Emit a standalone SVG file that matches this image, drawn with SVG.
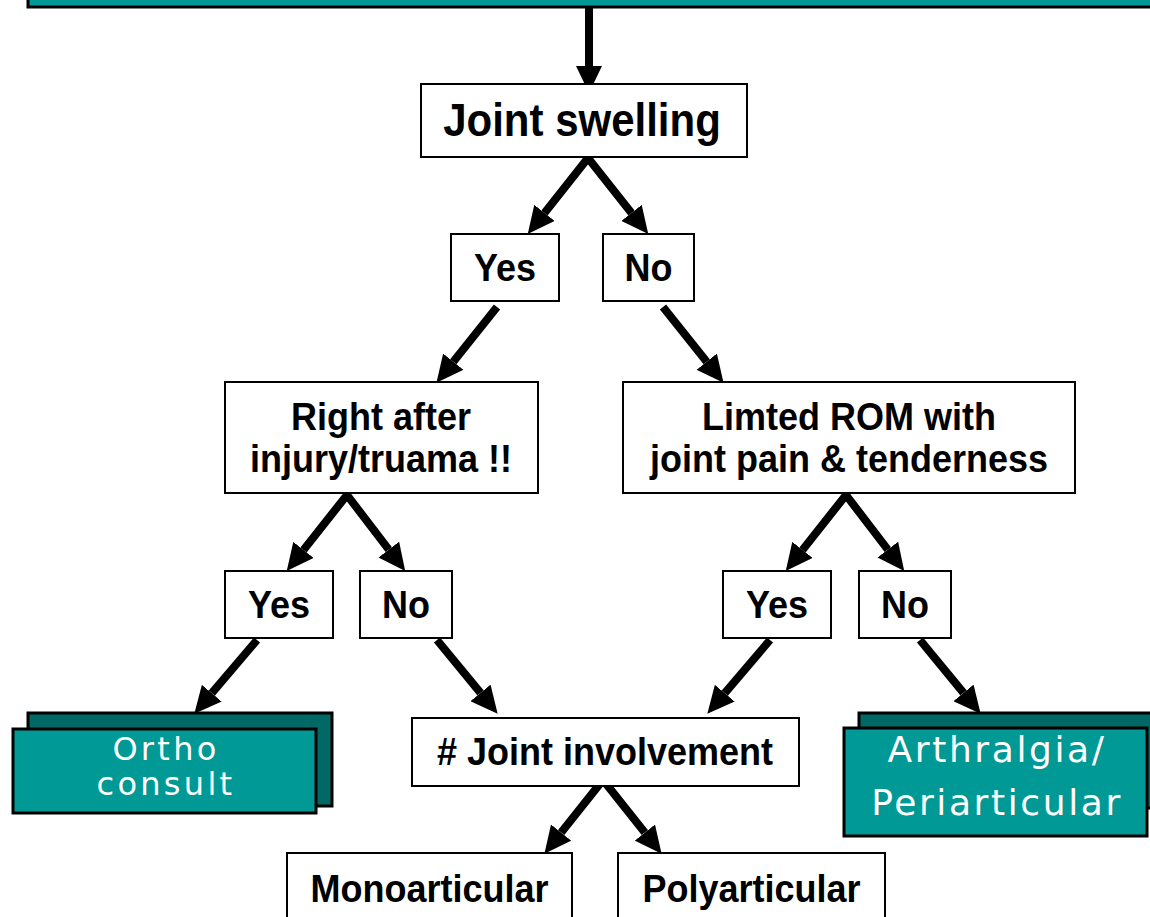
<svg xmlns="http://www.w3.org/2000/svg" width="1150" height="917" viewBox="0 0 1150 917">
  <style>
    .box { fill: #ffffff; stroke: #000000; stroke-width: 2; }
    .teal { fill: #009995; stroke: #000000; stroke-width: 3; }
    .teal-back { fill: #006865; stroke: #000000; stroke-width: 3; }
    .lbl { font-family: "Liberation Sans", Arial, sans-serif; font-weight: bold; font-size: 36px; fill: #000000; text-anchor: middle; }
    .big { font-size: 42px; }
    .wlbl { font-family: "DejaVu Sans", Verdana, sans-serif; font-size: 34px; fill: #ffffff; text-anchor: middle; letter-spacing: 2.6px; }
    .wsm { font-size: 32px; letter-spacing: 3.3px; }
    .conn { fill: none; stroke: #000000; stroke-width: 8; stroke-linejoin: miter; marker-end: url(#ah); }
    .fork { fill: none; stroke: #000000; stroke-width: 8; stroke-linejoin: miter; marker-start: url(#ah); marker-end: url(#ah); }
  </style>
  <defs>
    <marker id="ah" viewBox="0 -13 27 26" refX="0" refY="0" markerWidth="27" markerHeight="26" markerUnits="userSpaceOnUse" orient="auto-start-reverse">
      <path d="M0,-13 L27,0 L0,13 z" fill="#000000"/>
    </marker>
  </defs>

  <rect width="1150" height="917" fill="#ffffff"/>

  <!-- header bar (continues above the top edge) -->
  <g id="header">
    <rect class="teal" x="28" y="-20" width="1140" height="27"/>
  </g>

  <g id="connectors">
    <polyline class="conn" points="589,8 589,66"/>
    <polyline class="fork" points="544.5,212.9 588,158 631.5,212.9"/>
    <polyline class="conn" points="497,307 453.3,361.7"/>
    <polyline class="conn" points="663,307 706.7,361.7"/>
    <polyline class="fork" points="303.5,549.9 347,495 388.8,549.6"/>
    <polyline class="fork" points="802.5,549.9 846,495 887.8,549.6"/>
    <polyline class="conn" points="257,640 211.8,693.2"/>
    <polyline class="conn" points="437,640 480.5,692.9"/>
    <polyline class="conn" points="770,640 724.8,693.2"/>
    <polyline class="conn" points="920,640 963.5,692.9"/>
    <polyline class="fork" points="561.2,832.6 603,780 644.8,832.6"/>
  </g>

  <!-- bold labels are drawn slightly taller than wide (scale 1 x 1.08 about the baseline) -->
  <g id="joint-swelling">
    <rect class="box" x="421" y="84" width="326" height="73"/>
    <text class="lbl big" transform="translate(582,136) scale(1,1.08)">Joint swelling</text>
  </g>

  <g id="yes-1">
    <rect class="box" x="451" y="234" width="108" height="67"/>
    <text class="lbl" transform="translate(505,281) scale(1,1.08)">Yes</text>
  </g>
  <g id="no-1">
    <rect class="box" x="603" y="234" width="91" height="67"/>
    <text class="lbl" transform="translate(648.5,281) scale(1,1.08)">No</text>
  </g>

  <g id="right-after-injury">
    <rect class="box" x="225" y="382" width="313" height="111"/>
    <text class="lbl" transform="translate(381,430) scale(1,1.08)">Right after</text>
    <text class="lbl" transform="translate(381,472) scale(1,1.08)">injury/truama !!</text>
  </g>
  <g id="limited-rom">
    <rect class="box" x="623" y="382" width="452" height="111"/>
    <text class="lbl" transform="translate(849,430) scale(1,1.08)">Limted ROM with</text>
    <text class="lbl" transform="translate(849,472) scale(1,1.08)">joint pain &amp; tenderness</text>
  </g>

  <g id="yes-2a">
    <rect class="box" x="225" y="571" width="108" height="67"/>
    <text class="lbl" transform="translate(279,618) scale(1,1.08)">Yes</text>
  </g>
  <g id="no-2a">
    <rect class="box" x="360" y="571" width="92" height="67"/>
    <text class="lbl" transform="translate(406,618) scale(1,1.08)">No</text>
  </g>
  <g id="yes-2b">
    <rect class="box" x="723" y="571" width="108" height="67"/>
    <text class="lbl" transform="translate(777,618) scale(1,1.08)">Yes</text>
  </g>
  <g id="no-2b">
    <rect class="box" x="859" y="571" width="92" height="67"/>
    <text class="lbl" transform="translate(905,618) scale(1,1.08)">No</text>
  </g>

  <g id="ortho-consult">
    <rect class="teal-back" x="28" y="713" width="304" height="93"/>
    <rect class="teal" x="13" y="729" width="303" height="84"/>
    <text class="wlbl wsm" x="166" y="760">Ortho</text>
    <text class="wlbl wsm" x="166" y="795">consult</text>
  </g>

  <g id="joint-involvement">
    <rect class="box" x="412" y="718" width="387" height="68"/>
    <text class="lbl" transform="translate(605,765) scale(1,1.08)"># Joint involvement</text>
  </g>

  <g id="arthralgia">
    <rect class="teal-back" x="859" y="713" width="300" height="95"/>
    <rect class="teal" x="844" y="728" width="303" height="108"/>
    <text class="wlbl" x="997" y="762" style="font-size:36px">Arthralgia/</text>
    <text class="wlbl" x="997" y="815" style="font-size:36px">Periarticular</text>
  </g>

  <g id="monoarticular">
    <rect class="box" x="287" y="853" width="285" height="80"/>
    <text class="lbl" transform="translate(429.5,902) scale(1,1.08)">Monoarticular</text>
  </g>
  <g id="polyarticular">
    <rect class="box" x="618" y="853" width="267" height="80"/>
    <text class="lbl" transform="translate(751.5,902) scale(1,1.08)">Polyarticular</text>
  </g>
</svg>
